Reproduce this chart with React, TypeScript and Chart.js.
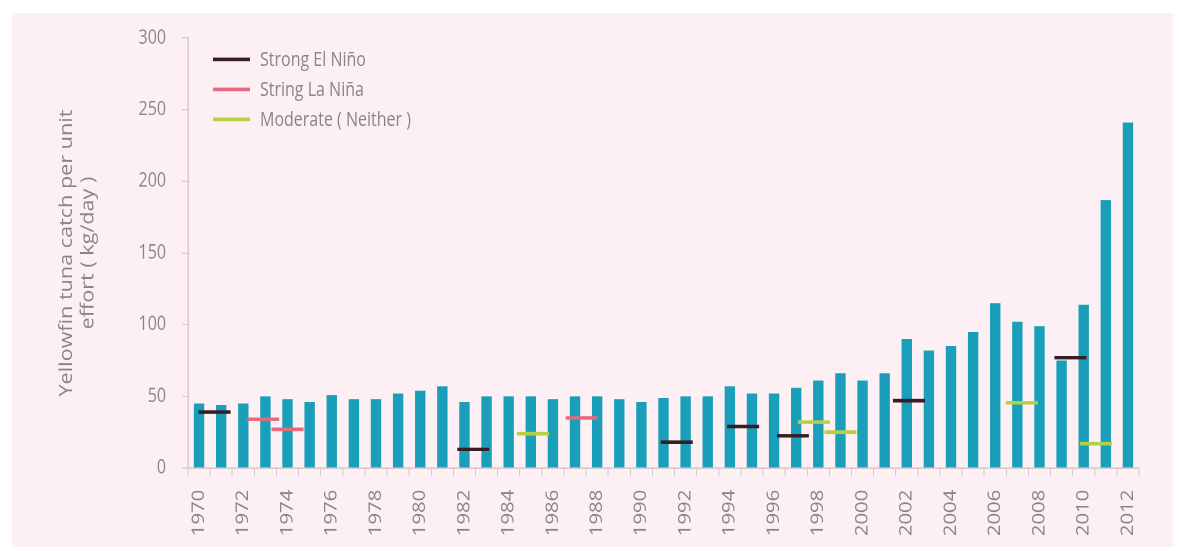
import React, { useEffect, useRef } from 'react';
import { Chart, registerables } from 'chart.js';

Chart.register(...registerables);

const years = [
  '1970', '1971', '1972', '1973', '1974', '1975', '1976', '1977', '1978', '1979',
  '1980', '1981', '1982', '1983', '1984', '1985', '1986', '1987', '1988', '1989',
  '1990', '1991', '1992', '1993', '1994', '1995', '1996', '1997', '1998', '1999',
  '2000', '2001', '2002', '2003', '2004', '2005', '2006', '2007', '2008', '2009',
  '2010', '2011', '2012',
];

const catchPerEffort = [
  45, 44, 45, 50, 48, 46, 51, 48, 48, 52,
  54, 57, 46, 50, 50, 50, 48, 50, 50, 48,
  46, 49, 50, 50, 57, 52, 52, 56, 61, 66,
  61, 66, 90, 82, 85, 95, 115, 102, 99, 75,
  114, 187, 241,
];

const elNinoYears = [1970.7, 1982.4, 1991.6, 1994.6, 1996.85, 2002.1, 2009.4];
const elNinoValues = [39, 13, 18, 29, 22.5, 47, 77];

const laNinaYears = [1972.9, 1974.0, 1987.3];
const laNinaValues = [34, 27, 35];

const moderateYears = [1985.1, 1997.8, 1999.0, 2007.2, 2010.55];
const moderateValues = [24, 32, 25, 45.5, 17];

const yTitle = ['Yellowfin tuna catch per unit', 'effort ( kg/day )'];
const legendLabels = ['Strong El Niño', 'String La Niña', 'Moderate ( Neither )'];

const BAR_COLOR = '#1a9fba';
const EL_NINO_COLOR = '#3a1c26';
const LA_NINA_COLOR = '#e8687c';
const MODERATE_COLOR = '#b6d046';
const TEXT_COLOR = '#8a8585';
const AXIS_COLOR = '#d9c9cd';
const FONT = "'Open Sans', 'DejaVu Sans', sans-serif";

// the source figure is drawn with a vertical stretch; render then stretch
const STRETCH = 1.2;
const W = 1179;
const H = 459;

const legendColors = [EL_NINO_COLOR, LA_NINA_COLOR, MODERATE_COLOR];

function markerSet(label: string, xs: number[], ys: number[], color: string) {
  return {
    type: 'line' as const,
    label,
    data: xs.map((x, i) => ({ x, y: ys[i] })),
    xAxisID: 'x2',
    yAxisID: 'y',
    showLine: false,
    pointStyle: 'line' as const,
    pointRadius: 16,
    pointHoverRadius: 16,
    pointBorderColor: color,
    pointBackgroundColor: color,
    pointBorderWidth: 3,
    borderColor: color,
    order: 1,
  };
}

export default function App() {
  const ref = useRef<HTMLCanvasElement>(null);

  useEffect(() => {
    if (!ref.current) return;
    const chart = new Chart(ref.current, {
      type: 'bar',
      data: {
        labels: years,
        datasets: [
          {
            type: 'bar',
            label: 'Yellowfin tuna CPUE',
            data: catchPerEffort,
            backgroundColor: BAR_COLOR,
            barPercentage: 0.47,
            categoryPercentage: 1,
            grouped: false,
            xAxisID: 'x',
            yAxisID: 'y',
            order: 2,
          } as any,
          markerSet(legendLabels[0], elNinoYears, elNinoValues, EL_NINO_COLOR) as any,
          markerSet(legendLabels[1], laNinaYears, laNinaValues, LA_NINA_COLOR) as any,
          markerSet(legendLabels[2], moderateYears, moderateValues, MODERATE_COLOR) as any,
        ],
      },
      options: {
        animation: false,
        responsive: false,
        devicePixelRatio: 2,
        layout: { padding: { left: 56, right: 40, top: 31.7, bottom: 0 } },
        plugins: {
          legend: { display: false },
          tooltip: { enabled: false },
        },
        scales: {
          x: {
            type: 'category',
            offset: true,
            grid: {
              display: true,
              drawOnChartArea: false,
              drawTicks: true,
              tickLength: 7,
              color: AXIS_COLOR,
              offset: true,
            },
            border: { color: AXIS_COLOR, width: 1.5 },
            ticks: {
              autoSkip: false,
              minRotation: 90,
              maxRotation: 90,
              padding: 11,
              color: TEXT_COLOR,
              font: { family: FONT, size: 17 },
              callback: function (this: any, v: any, i: number) {
                return i % 2 === 0 ? this.getLabelForValue(v) : '';
              },
            },
            afterFit: (s: any) => {
              s.height = 69;
            },
          },
          x2: {
            type: 'linear',
            display: false,
            offset: false,
            grid: { offset: false },
            bounds: 'data',
            min: 1969.5,
            max: 2012.5,
          },
          y: {
            min: 0,
            max: 300,
            ticks: {
              stepSize: 50,
              padding: 16,
              color: TEXT_COLOR,
              font: { family: FONT, size: 16 },
            },
            grid: {
              drawOnChartArea: false,
              drawTicks: true,
              tickLength: 6,
              color: AXIS_COLOR,
            },
            border: { color: AXIS_COLOR, width: 1.5 },
            title: {
              display: true,
              text: yTitle,
              color: TEXT_COLOR,
              font: { family: FONT, size: 18 },
              padding: { top: 0, bottom: 0 },
            },
            afterFit: (s: any) => {
              s.width = 132;
            },
          },
        },
      } as any,
    });
    return () => chart.destroy();
  }, []);

  return (
    <div
      style={{
        position: 'fixed',
        left: 0,
        top: 0,
        width: W,
        height: 551,
        background: '#ffffff',
        overflow: 'hidden',
      }}
    >
      <div
        style={{
          position: 'absolute',
          left: 12,
          top: 13,
          right: 6,
          bottom: 4,
          background: '#fcf0f4',
        }}
      />
      <div
        style={{
          position: 'absolute',
          left: 0,
          top: 0,
          width: W,
          height: H,
          transform: `scaleY(${STRETCH})`,
          transformOrigin: '0 0',
        }}
      >
        <canvas
          ref={ref}
          width={W}
          height={H}
          style={{ position: 'absolute', left: 0, top: 0, width: W, height: H }}
        />
        <div
          style={{
            position: 'absolute',
            left: 213,
            top: 36.7,
            fontFamily: FONT,
            fontSize: 16,
            color: TEXT_COLOR,
          }}
        >
          {legendLabels.map((lab, i) => (
            <div key={lab} style={{ display: 'flex', alignItems: 'center', height: 25 }}>
              <span
                style={{
                  display: 'inline-block',
                  width: 37,
                  height: 3,
                  background: legendColors[i],
                  marginRight: 10,
                }}
              />
              <span>{lab}</span>
            </div>
          ))}
        </div>
      </div>
    </div>
  );
}
